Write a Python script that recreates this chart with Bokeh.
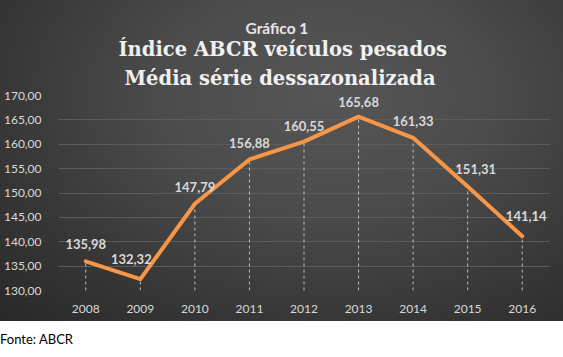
from bokeh.plotting import figure
from bokeh.models import (FactorRange, Range1d, Title, ColumnDataSource, Div,
                          CustomJSTickFormatter, FixedTicker)
from bokeh.layouts import column
from bokeh.core.properties import value
from bokeh.embed import file_html
from bokeh.resources import INLINE

# ---- data ----
years = ["2008", "2009", "2010", "2011", "2012", "2013", "2014", "2015", "2016"]
values = [135.98, 132.32, 147.79, 156.88, 160.55, 165.68, 161.33, 151.31, 141.14]
y_ticks = [130, 135, 140, 145, 150, 155, 160, 165, 170]
label_dx = [0, -9, 0, 0, 0, 0, 0, 8, 4]
label_dy = [-17, -20, -17, -16, -16, -15, -17, -18, -20]

subtitle = "Gráfico 1"
title1 = "Índice ABCR veículos pesados"
title2 = "Média série dessazonalizada"
source_note = "Fonte: ABCR"

labels = [f"{v:.2f}".replace(".", ",") for v in values]
base = [y_ticks[0]] * len(values)

src = ColumnDataSource(dict(x=years, y=values, base=base, lab=labels,
                            dx=label_dx, dy=label_dy))

p = figure(width=563, height=321, x_range=FactorRange(*years),
           y_range=Range1d(y_ticks[0], y_ticks[-1]),
           output_backend="svg", toolbar_location=None,
           min_border_left=53, min_border_right=14,
           min_border_top=95, min_border_bottom=31)
p.background_fill_color = None
p.border_fill_color = None
p.outline_line_color = None
p.styles = {"background": "radial-gradient(ellipse farthest-corner at 58% 30%, "
                          "#565656 0%, #4c4c4c 35%, #3a3a3a 65%, #282828 100%)"}

p.xgrid.grid_line_color = None
p.ygrid.grid_line_color = "#5c5c5c"
p.ygrid.grid_line_width = 1

for ax in (p.xaxis[0], p.yaxis[0]):
    ax.axis_line_color = None
    ax.major_tick_line_color = None
    ax.minor_tick_line_color = None
    ax.major_label_text_color = "#d9d9d9"
    ax.major_label_text_font = "Lato"
    ax.major_label_text_font_size = "12px"

p.yaxis.ticker = FixedTicker(ticks=y_ticks)
p.yaxis.formatter = CustomJSTickFormatter(code="return tick.toFixed(2).replace('.', ',');")
p.yaxis.major_label_standoff = 11
p.xaxis.major_label_standoff = 8

p.segment(x0="x", y0="base", x1="x", y1="y", source=src,
          line_color="#bdbdbd", line_width=1, line_dash="3 3")
p.line(x="x", y="y", source=src, line_color="#f79646", line_width=4,
       line_join="round", line_cap="round")
p.text(x="x", y="y", text="lab", source=src, x_offset="dx", y_offset="dy",
       text_align="center", text_baseline="middle",
       text_font=value("Lato"), text_font_style="bold",
       text_font_size="13px", text_color="#d9d9d9")

# titles: later-added titles are stacked further from the frame
p.add_layout(Title(text=title2, align="left", offset=66, standoff=11,
                   text_font="DejaVu Serif", text_font_size="19.5px",
                   text_font_style="bold", text_color="#f0f0f0"), "above")
p.add_layout(Title(text=title1, align="left", offset=60, standoff=-2,
                   text_font="DejaVu Serif", text_font_size="19.5px",
                   text_font_style="bold", text_color="#f0f0f0"), "above")
p.add_layout(Title(text=subtitle, align="left", offset=187, standoff=0,
                   text_font="Lato", text_font_size="15.5px",
                   text_font_style="bold", text_color="#e6e6e6"), "above")

note = Div(text=source_note, width=563, height=36,
           styles={"font-family": "Lato", "font-size": "13px", "color": "#000000",
                   "line-height": "36px", "padding": "0px", "margin": "0px",
                   "background": "#ffffff"})

layout = column(p, note, spacing=0)
open("out.html", "w").write(file_html(layout, INLINE))
